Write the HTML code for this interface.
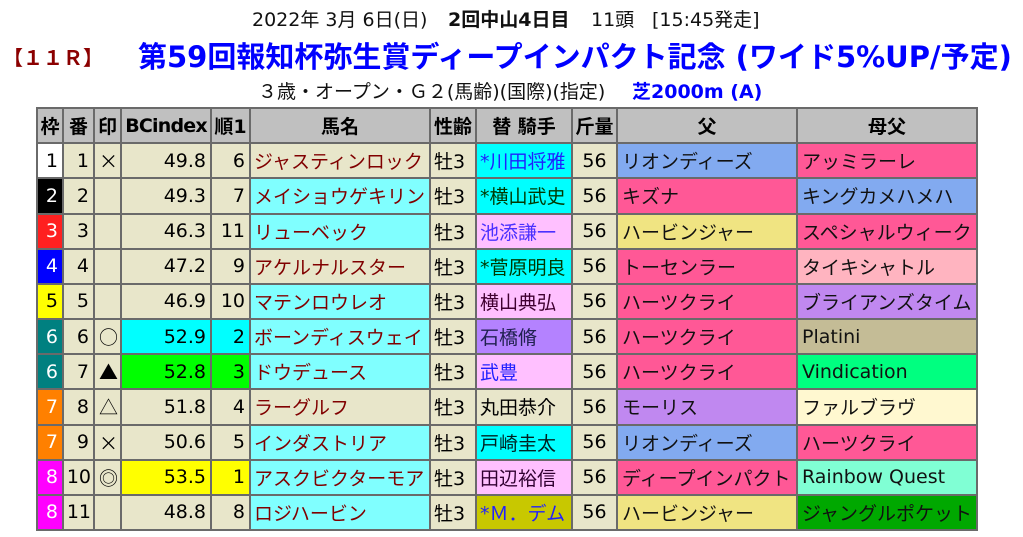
<!DOCTYPE html>
<html><head><meta charset="utf-8">
<style>
html,body{margin:0;padding:0;background:#fff;}
body{width:1023px;height:537px;position:relative;overflow:hidden;font-family:"DejaVu Sans","Noto Sans CJK JP",sans-serif;color:#000;}
.t{position:absolute;white-space:nowrap;}
.l1{top:8px;height:24px;line-height:24px;font-size:19px;color:#111;}
.l3{top:80px;height:24px;line-height:24px;font-size:19px;color:#111;}
.ttl{top:40px;height:34px;line-height:34px;font-size:29px;font-weight:bold;color:#0000ff;}
.race{top:41px;height:32px;line-height:32px;font-size:20px;letter-spacing:0px;font-weight:bold;color:#8b0000;font-family:"Noto Sans CJK JP",sans-serif;}
.grid{position:absolute;left:36px;top:107px;width:942px;height:424px;box-sizing:border-box;padding:2px;background:#6a6a6a;display:grid;gap:2px;
grid-template-columns:24px 29px 25px 88px 37px 178px 44px 94px 43px 178px 178px;grid-template-rows:repeat(12,1fr);}
.grid>div{background:#e8e6ca;font-size:19px;display:flex;align-items:center;white-space:nowrap;overflow:hidden;box-sizing:border-box;}
.h{background:#c0c0c0 !important;font-weight:bold;justify-content:center;}
.r{justify-content:flex-end;padding-right:4px;}
.c{justify-content:center;}
.lf{padding-left:3px;}
.nm{color:#800000;padding-left:3px;}
.fa{padding-left:4px;color:#111;}
.lc{background:#80ffff !important;}
.cy{background:#00ffff !important;}
.pk{background:#ffc0ff !important;}
.pu{background:#b482ff !important;}
.ol{background:#c8c800 !important;}
.sb{background:#82aaf0 !important;}
.sp{background:#ff5896 !important;}
.sy{background:#f0e482 !important;}
.sv{background:#c088f0 !important;}
.lp{background:#ffb4c0 !important;}
.tn{background:#c4bc96 !important;}
.gr{background:#00ff80 !important;}
.cr{background:#fff8d0 !important;}
.aq{background:#80ffd4 !important;}
.dg{background:#00a800 !important;}
.ye{background:#ffff00 !important;}
.li{background:#00ff00 !important;}
.w1{background:#fff !important;color:#000;}
.w2{background:#000 !important;color:#fff;}
.w3{background:#ff2020 !important;color:#fff;}
.w4{background:#0000ff !important;color:#fff;}
.w5{background:#ffff00 !important;color:#000;}
.w6{background:#008080 !important;color:#fff;}
.w7{background:#ff8000 !important;color:#fff;}
.w8{background:#ff00ff !important;color:#fff;}
.mk{padding-left:4px;font-family:"Noto Sans CJK JP","DejaVu Sans",sans-serif;}
</style></head><body>
<div class="t l1" style="left:252px;">2022年 3月 6日(日)</div>
<div class="t l1" style="left:448px;font-weight:bold;">2回中山4日目</div>
<div class="t l1" style="left:591px;">11頭</div>
<div class="t l1" style="left:652px;">[15:45発走]</div>
<div class="t race" style="left:3px;">【１１Ｒ】</div>
<div class="t ttl" style="left:138px;">第59回報知杯弥生賞ディープインパクト記念 (ワイド5%UP/予定)</div>
<div class="t l3" style="left:258px;">３歳・オープン・Ｇ２(馬齢)(国際)(指定)</div>
<div class="t l3" style="left:632px;font-weight:bold;color:#0000ff;">芝2000m (A)</div>

<div class="grid">
<div class="h">枠</div><div class="h">番</div><div class="h">印</div><div class="h" style="letter-spacing:-0.8px;">BCindex</div><div class="h">順1</div><div class="h">馬名</div><div class="h">性齢</div><div class="h">替 騎手</div><div class="h">斤量</div><div class="h">父</div><div class="h">母父</div>

<div class="r w1">1</div><div class="r">1</div><div class="mk">×</div><div class="r">49.8</div><div class="r">6</div><div class="nm">ジャスティンロック</div><div class="lf">牡3</div><div class="lf cy" style="color:#2020ff;">*川田将雅</div><div class="c">56</div><div class="fa sb">リオンディーズ</div><div class="fa sp">アッミラーレ</div>

<div class="r w2">2</div><div class="r">2</div><div class="mk"></div><div class="r">49.3</div><div class="r">7</div><div class="nm lc">メイショウゲキリン</div><div class="lf">牡3</div><div class="lf cy" style="color:#003800;">*横山武史</div><div class="c">56</div><div class="fa sp">キズナ</div><div class="fa sb">キングカメハメハ</div>

<div class="r w3">3</div><div class="r">3</div><div class="mk"></div><div class="r">46.3</div><div class="r">11</div><div class="nm lc">リューベック</div><div class="lf">牡3</div><div class="lf pk" style="color:#4a30ff;">池添謙一</div><div class="c">56</div><div class="fa sy">ハービンジャー</div><div class="fa sp">スペシャルウィーク</div>

<div class="r w4">4</div><div class="r">4</div><div class="mk"></div><div class="r">47.2</div><div class="r">9</div><div class="nm">アケルナルスター</div><div class="lf">牡3</div><div class="lf cy" style="color:#003800;">*菅原明良</div><div class="c">56</div><div class="fa sp">トーセンラー</div><div class="fa lp">タイキシャトル</div>

<div class="r w5">5</div><div class="r">5</div><div class="mk"></div><div class="r">46.9</div><div class="r">10</div><div class="nm lc">マテンロウレオ</div><div class="lf">牡3</div><div class="lf pk" style="color:#400030;">横山典弘</div><div class="c">56</div><div class="fa sp">ハーツクライ</div><div class="fa sv">ブライアンズタイム</div>

<div class="r w6">6</div><div class="r">6</div><div class="mk">○</div><div class="r cy">52.9</div><div class="r cy">2</div><div class="nm lc">ボーンディスウェイ</div><div class="lf">牡3</div><div class="lf pu" style="color:#202050;">石橋脩</div><div class="c">56</div><div class="fa sp">ハーツクライ</div><div class="fa tn">Platini</div>

<div class="r w6">6</div><div class="r">7</div><div class="mk">▲</div><div class="r li">52.8</div><div class="r li">3</div><div class="nm lc">ドウデュース</div><div class="lf">牡3</div><div class="lf pk" style="color:#2020ff;">武豊</div><div class="c">56</div><div class="fa sp">ハーツクライ</div><div class="fa gr">Vindication</div>

<div class="r w7">7</div><div class="r">8</div><div class="mk">△</div><div class="r">51.8</div><div class="r">4</div><div class="nm">ラーグルフ</div><div class="lf">牡3</div><div class="lf">丸田恭介</div><div class="c">56</div><div class="fa sv">モーリス</div><div class="fa cr">ファルブラヴ</div>

<div class="r w7">7</div><div class="r">9</div><div class="mk">×</div><div class="r">50.6</div><div class="r">5</div><div class="nm lc">インダストリア</div><div class="lf">牡3</div><div class="lf cy" style="color:#002020;">戸崎圭太</div><div class="c">56</div><div class="fa sb">リオンディーズ</div><div class="fa sp">ハーツクライ</div>

<div class="r w8">8</div><div class="r" style="padding-right:2px;">10</div><div class="mk">◎</div><div class="r ye">53.5</div><div class="r ye">1</div><div class="nm lc">アスクビクターモア</div><div class="lf">牡3</div><div class="lf pk" style="color:#300030;">田辺裕信</div><div class="c">56</div><div class="fa sp">ディープインパクト</div><div class="fa aq">Rainbow Quest</div>

<div class="r w8">8</div><div class="r" style="padding-right:2px;">11</div><div class="mk"></div><div class="r">48.8</div><div class="r">8</div><div class="nm lc">ロジハービン</div><div class="lf">牡3</div><div class="lf ol" style="color:#2020ff;">*Ｍ．デム</div><div class="c">56</div><div class="fa sy">ハービンジャー</div><div class="fa dg">ジャングルポケット</div>
</div>
</body></html>
